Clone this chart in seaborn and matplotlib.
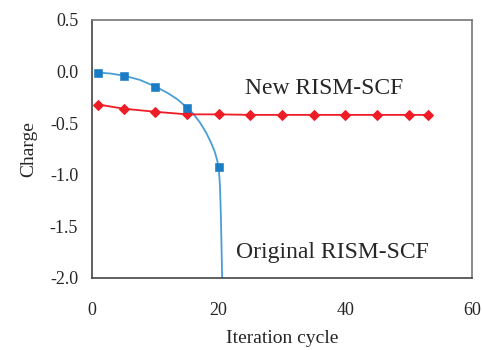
import pandas as pd
import matplotlib
matplotlib.use("Agg")
import matplotlib.pyplot as plt
import seaborn as sns

# marker points
orig_x = [1, 5, 10, 15, 20]
orig_y = [-0.01, -0.04, -0.145, -0.35, -0.93]

new_x = [1, 5, 10, 15, 20, 25, 30, 35, 40, 45, 50, 53]
new_y = [-0.32, -0.36, -0.39, -0.415, -0.415, -0.42, -0.42, -0.42, -0.42, -0.42, -0.42, -0.42]

# smooth trace of the original curve
trace_x = [1, 3, 5, 7.5, 10, 12, 13.5, 15, 16, 17, 18, 18.8, 19.4, 19.8, 20,
           20.2, 20.35, 20.45, 20.55]
trace_y = [-0.01, -0.02, -0.04, -0.08, -0.145, -0.21, -0.27, -0.35, -0.41, -0.49,
           -0.59, -0.69, -0.78, -0.87, -0.93, -1.1, -1.4, -1.7, -2.0]

sns.set_style("white")
plt.rcParams['font.family'] = ['Liberation Serif', 'DejaVu Serif']

BLUE_LINE = '#4a9ed6'
BLUE_MARK = '#1a7cc4'
RED = '#ee1c25'

fig = plt.figure(figsize=(4.82, 3.5), dpi=100)
ax = fig.add_axes([0.191, 0.206, 0.788, 0.737])

df_trace = pd.DataFrame({'x': trace_x, 'y': trace_y})
df_orig = pd.DataFrame({'x': orig_x, 'y': orig_y})
df_new = pd.DataFrame({'x': new_x, 'y': new_y})

sns.lineplot(data=df_trace, x='x', y='y', ax=ax, color=BLUE_LINE, linewidth=1.3,
             sort=False, estimator=None)
sns.scatterplot(data=df_orig, x='x', y='y', ax=ax, color=BLUE_MARK, marker='s',
                s=28, edgecolor=BLUE_MARK, zorder=5)
sns.lineplot(data=df_new, x='x', y='y', ax=ax, color=RED, linewidth=1.3,
             marker='D', markersize=5, markeredgecolor=RED, sort=False, estimator=None)

ax.text(24.2, -0.165, 'New RISM-SCF', fontsize=17, va='center', ha='left')
ax.text(22.8, -1.75, 'Original RISM-SCF', fontsize=17, va='center', ha='left')

ax.set_xlim(0, 60)
ax.set_ylim(-2.0, 0.5)
ax.set_xticks([0, 20, 40, 60])
ax.set_yticks([0.5, 0.0, -0.5, -1.0, -1.5, -2.0])
ax.set_yticklabels(['0.5', '0.0', '-0.5', '-1.0', '-1.5', '-2.0'])
ax.tick_params(axis='both', length=0, labelsize=13)
ax.tick_params(axis='x', pad=17)
ax.tick_params(axis='y', pad=10)
ax.set_xlabel('Iteration cycle', fontsize=14, labelpad=8)
ax.set_ylabel('Charge', fontsize=14, labelpad=9)

for side in ['left', 'bottom']:
    ax.spines[side].set_color('#444444')
    ax.spines[side].set_linewidth(1.2)
for side in ['top', 'right']:
    ax.spines[side].set_color('#777777')
    ax.spines[side].set_linewidth(1.2)

fig.savefig('out.png', dpi=100)
